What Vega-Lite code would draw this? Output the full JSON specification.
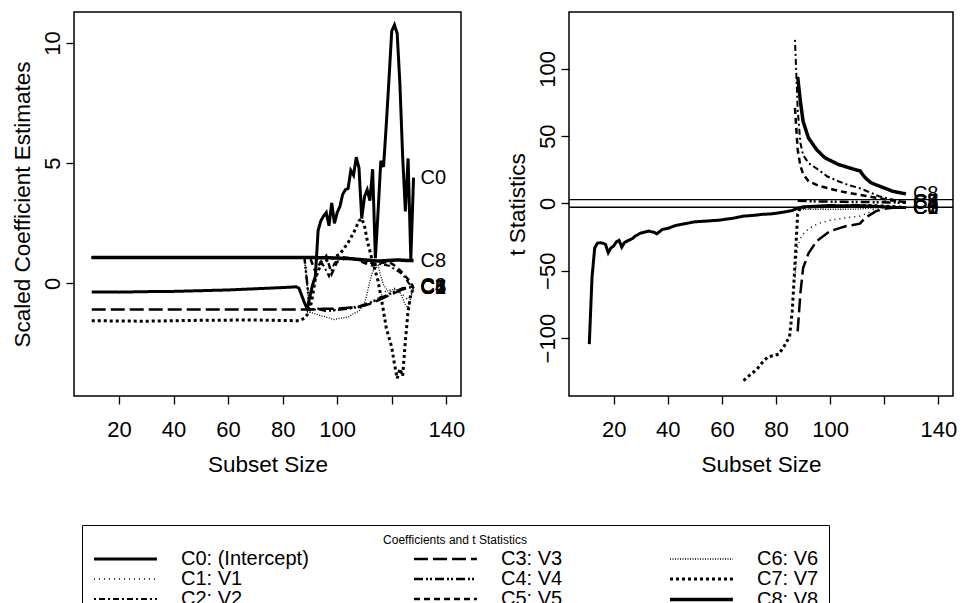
{
  "$schema": "https://vega.github.io/schema/vega-lite/v6.json",
  "background": "white",
  "padding": {"left": 10, "top": 11, "right": 5, "bottom": 0},
  "spacing": 39,
  "config": {
    "font": "Liberation Sans",
    "view": {"stroke": "black", "strokeWidth": 1.5},
    "axis": {"grid": false, "domain": false, "tickColor": "black", "tickSize": 8, "tickWidth": 1.3, "labelColor": "black", "labelFontSize": 22, "titleFontSize": 22.5, "titleFontWeight": "normal", "titleColor": "black", "labelOverlap": false, "labelFlush": false, "labelPadding": 14},
    "axisX": {"labelPadding": 15, "titlePadding": 13},
    "axisY": {"labelAngle": -90, "labelAlign": "center", "labelBaseline": "middle", "titlePadding": 7},
    "line": {"color": "black"},
    "text": {"color": "black"}
  },
  "datasets": {
    "coef": [
      {"s":"C0","x":10,"y":-0.35},{"s":"C0","x":20,"y":-0.36},{"s":"C0","x":30,"y":-0.34},{"s":"C0","x":40,"y":-0.33},{"s":"C0","x":50,"y":-0.3},{"s":"C0","x":60,"y":-0.27},{"s":"C0","x":70,"y":-0.22},{"s":"C0","x":80,"y":-0.17},{"s":"C0","x":85,"y":-0.14},{"s":"C0","x":86,"y":-0.2},{"s":"C0","x":87,"y":-0.5},{"s":"C0","x":88,"y":-0.8},{"s":"C0","x":89,"y":-1.05},{"s":"C0","x":90,"y":-0.55},{"s":"C0","x":91,"y":-0.05},{"s":"C0","x":92,"y":0.3},{"s":"C0","x":93,"y":2.2},{"s":"C0","x":94,"y":2.6},{"s":"C0","x":95,"y":2.8},{"s":"C0","x":96,"y":2.95},{"s":"C0","x":97,"y":2.4},{"s":"C0","x":98,"y":3.35},{"s":"C0","x":99,"y":2.5},{"s":"C0","x":100,"y":2.95},{"s":"C0","x":101,"y":3.2},{"s":"C0","x":102,"y":3.7},{"s":"C0","x":103,"y":3.9},{"s":"C0","x":104,"y":3.95},{"s":"C0","x":105,"y":4.7},{"s":"C0","x":106,"y":4.5},{"s":"C0","x":107,"y":5.25},{"s":"C0","x":108,"y":4.8},{"s":"C0","x":109,"y":2.7},{"s":"C0","x":110,"y":3.6},{"s":"C0","x":111,"y":3.9},{"s":"C0","x":112,"y":3.45},{"s":"C0","x":113,"y":4.75},{"s":"C0","x":114,"y":1.05},{"s":"C0","x":115,"y":3.0},{"s":"C0","x":116,"y":5.1},{"s":"C0","x":117,"y":4.85},{"s":"C0","x":118,"y":6.6},{"s":"C0","x":119,"y":8.5},{"s":"C0","x":120,"y":10.5},{"s":"C0","x":121,"y":10.75},{"s":"C0","x":122,"y":10.4},{"s":"C0","x":123,"y":8.3},{"s":"C0","x":124,"y":5.3},{"s":"C0","x":125,"y":3.0},{"s":"C0","x":126,"y":5.2},{"s":"C0","x":127,"y":1.0},{"s":"C0","x":128,"y":4.4},
      {"s":"C1","x":10,"y":1.08},{"s":"C1","x":88,"y":1.08},{"s":"C1","x":90,"y":-1.08},{"s":"C1","x":95,"y":-1.1},{"s":"C1","x":100,"y":-1.1},{"s":"C1","x":105,"y":-1.05},{"s":"C1","x":110,"y":-0.95},{"s":"C1","x":114,"y":-0.7},{"s":"C1","x":118,"y":-0.3},{"s":"C1","x":121,"y":-0.25},{"s":"C1","x":124,"y":-0.45},{"s":"C1","x":126,"y":-0.7},{"s":"C1","x":128,"y":-0.2},
      {"s":"C2","x":10,"y":1.08},{"s":"C2","x":90,"y":1.08},{"s":"C2","x":92,"y":1.0},{"s":"C2","x":95,"y":0.75},{"s":"C2","x":97,"y":0.3},{"s":"C2","x":99,"y":0.85},{"s":"C2","x":102,"y":1.1},{"s":"C2","x":106,"y":1.05},{"s":"C2","x":110,"y":0.9},{"s":"C2","x":112,"y":0.85},{"s":"C2","x":116,"y":0.8},{"s":"C2","x":119,"y":0.74},{"s":"C2","x":121,"y":0.6},{"s":"C2","x":123,"y":0.46},{"s":"C2","x":125,"y":0.25},{"s":"C2","x":126,"y":0.04},{"s":"C2","x":128,"y":-0.2},
      {"s":"C3","x":10,"y":-1.08},{"s":"C3","x":50,"y":-1.08},{"s":"C3","x":90,"y":-1.08},{"s":"C3","x":95,"y":-1.05},{"s":"C3","x":100,"y":-1.05},{"s":"C3","x":105,"y":-1.0},{"s":"C3","x":108,"y":-0.98},{"s":"C3","x":112,"y":-0.85},{"s":"C3","x":116,"y":-0.65},{"s":"C3","x":120,"y":-0.45},{"s":"C3","x":124,"y":-0.25},{"s":"C3","x":128,"y":-0.1},
      {"s":"C4","x":10,"y":1.08},{"s":"C4","x":88,"y":1.08},{"s":"C4","x":90,"y":-1.1},{"s":"C4","x":93,"y":-1.05},{"s":"C4","x":96,"y":-1.15},{"s":"C4","x":100,"y":-1.1},{"s":"C4","x":104,"y":-1.05},{"s":"C4","x":108,"y":-0.95},{"s":"C4","x":112,"y":-0.8},{"s":"C4","x":116,"y":-0.6},{"s":"C4","x":120,"y":-0.4},{"s":"C4","x":124,"y":-0.2},{"s":"C4","x":128,"y":-0.15},
      {"s":"C5","x":10,"y":1.08},{"s":"C5","x":90,"y":1.08},{"s":"C5","x":92,"y":0.5},{"s":"C5","x":94,"y":0.9},{"s":"C5","x":96,"y":1.15},{"s":"C5","x":98,"y":0.4},{"s":"C5","x":100,"y":0.9},{"s":"C5","x":103,"y":1.05},{"s":"C5","x":107,"y":1.0},{"s":"C5","x":110,"y":0.85},{"s":"C5","x":113,"y":0.75},{"s":"C5","x":116,"y":0.85},{"s":"C5","x":119,"y":0.9},{"s":"C5","x":121,"y":0.75},{"s":"C5","x":123,"y":0.55},{"s":"C5","x":125,"y":0.3},{"s":"C5","x":127,"y":0.05},{"s":"C5","x":128,"y":-0.2},
      {"s":"C6","x":10,"y":1.08},{"s":"C6","x":88,"y":1.08},{"s":"C6","x":90,"y":-1.2},{"s":"C6","x":93,"y":-1.3},{"s":"C6","x":96,"y":-1.4},{"s":"C6","x":99,"y":-1.5},{"s":"C6","x":101,"y":-1.45},{"s":"C6","x":104,"y":-1.4},{"s":"C6","x":106,"y":-1.25},{"s":"C6","x":108,"y":-1.15},{"s":"C6","x":110,"y":-0.85},{"s":"C6","x":111,"y":-0.4},{"s":"C6","x":112,"y":0.1},{"s":"C6","x":113,"y":0.5},{"s":"C6","x":115,"y":0.75},{"s":"C6","x":116,"y":0.3},{"s":"C6","x":117,"y":-0.05},{"s":"C6","x":119,"y":-0.4},{"s":"C6","x":121,"y":-0.2},{"s":"C6","x":123,"y":-0.35},{"s":"C6","x":125,"y":-0.9},{"s":"C6","x":126,"y":-1.0},{"s":"C6","x":127,"y":-0.6},{"s":"C6","x":128,"y":-0.2},
      {"s":"C7","x":10,"y":-1.55},{"s":"C7","x":30,"y":-1.57},{"s":"C7","x":50,"y":-1.53},{"s":"C7","x":70,"y":-1.52},{"s":"C7","x":86,"y":-1.55},{"s":"C7","x":88,"y":-1.45},{"s":"C7","x":89,"y":-1.3},{"s":"C7","x":90,"y":-1.1},{"s":"C7","x":91,"y":-0.5},{"s":"C7","x":92,"y":0.2},{"s":"C7","x":94,"y":0.8},{"s":"C7","x":96,"y":0.95},{"s":"C7","x":98,"y":1.05},{"s":"C7","x":101,"y":1.22},{"s":"C7","x":104,"y":1.7},{"s":"C7","x":106,"y":2.1},{"s":"C7","x":108,"y":2.6},{"s":"C7","x":109,"y":2.7},{"s":"C7","x":110,"y":2.4},{"s":"C7","x":111,"y":1.8},{"s":"C7","x":113,"y":0.9},{"s":"C7","x":115,"y":0.1},{"s":"C7","x":117,"y":-1.15},{"s":"C7","x":118,"y":-1.85},{"s":"C7","x":120,"y":-2.65},{"s":"C7","x":121,"y":-3.35},{"s":"C7","x":122,"y":-3.95},{"s":"C7","x":123,"y":-3.55},{"s":"C7","x":124,"y":-3.85},{"s":"C7","x":125,"y":-2.4},{"s":"C7","x":126,"y":-1.15},{"s":"C7","x":127,"y":-0.45},{"s":"C7","x":128,"y":-0.2},
      {"s":"C8","x":10,"y":1.08},{"s":"C8","x":50,"y":1.08},{"s":"C8","x":90,"y":1.08},{"s":"C8","x":100,"y":1.06},{"s":"C8","x":105,"y":1.03},{"s":"C8","x":110,"y":0.98},{"s":"C8","x":115,"y":0.93},{"s":"C8","x":118,"y":0.95},{"s":"C8","x":122,"y":0.98},{"s":"C8","x":125,"y":0.96},{"s":"C8","x":128,"y":0.95}
    ],
    "tstat": [
      {"s":"C0","x":11,"y":-104.5},{"s":"C0","x":12,"y":-55},{"s":"C0","x":13,"y":-33},{"s":"C0","x":14,"y":-29.5},{"s":"C0","x":15,"y":-29.2},{"s":"C0","x":16,"y":-29.5},{"s":"C0","x":17,"y":-30.4},{"s":"C0","x":18,"y":-36.6},{"s":"C0","x":19,"y":-33},{"s":"C0","x":20,"y":-31.6},{"s":"C0","x":21,"y":-28.5},{"s":"C0","x":22,"y":-27.4},{"s":"C0","x":23,"y":-32.4},{"s":"C0","x":24,"y":-29},{"s":"C0","x":25,"y":-27.9},{"s":"C0","x":27,"y":-26},{"s":"C0","x":28,"y":-24.2},{"s":"C0","x":30,"y":-22},{"s":"C0","x":33,"y":-20.5},{"s":"C0","x":35,"y":-21.5},{"s":"C0","x":36,"y":-22.5},{"s":"C0","x":38,"y":-19.3},{"s":"C0","x":40,"y":-18.5},{"s":"C0","x":43,"y":-16.3},{"s":"C0","x":47,"y":-14.8},{"s":"C0","x":50,"y":-13.6},{"s":"C0","x":55,"y":-13},{"s":"C0","x":59,"y":-12.4},{"s":"C0","x":64,"y":-11},{"s":"C0","x":68,"y":-9.4},{"s":"C0","x":72,"y":-8.8},{"s":"C0","x":75,"y":-8.1},{"s":"C0","x":78,"y":-7.8},{"s":"C0","x":81,"y":-7},{"s":"C0","x":84,"y":-6},{"s":"C0","x":86,"y":-5.2},{"s":"C0","x":88,"y":-3.5},{"s":"C0","x":90,"y":-2.5},{"s":"C0","x":95,"y":-2},{"s":"C0","x":100,"y":-1.5},{"s":"C0","x":105,"y":-1.8},{"s":"C0","x":110,"y":-1.5},{"s":"C0","x":115,"y":-2},{"s":"C0","x":120,"y":-2.5},{"s":"C0","x":125,"y":-3},{"s":"C0","x":128,"y":-3},
      {"s":"C1","x":87,"y":-55},{"s":"C1","x":88,"y":-32},{"s":"C1","x":89,"y":-26},{"s":"C1","x":90,"y":-23},{"s":"C1","x":92,"y":-19},{"s":"C1","x":94,"y":-16.5},{"s":"C1","x":97,"y":-14},{"s":"C1","x":100,"y":-12.5},{"s":"C1","x":106,"y":-10.6},{"s":"C1","x":111,"y":-9.4},{"s":"C1","x":114,"y":-7},{"s":"C1","x":116,"y":-4.5},{"s":"C1","x":120,"y":-3.5},{"s":"C1","x":128,"y":-3},
      {"s":"C2","x":87,"y":121.5},{"s":"C2","x":88,"y":70},{"s":"C2","x":89,"y":45},{"s":"C2","x":90,"y":36},{"s":"C2","x":92,"y":30},{"s":"C2","x":95,"y":26},{"s":"C2","x":99,"y":20},{"s":"C2","x":103,"y":16.5},{"s":"C2","x":107,"y":13.5},{"s":"C2","x":111,"y":11.3},{"s":"C2","x":115,"y":8},{"s":"C2","x":118,"y":5.4},{"s":"C2","x":122,"y":3.3},{"s":"C2","x":125,"y":2},{"s":"C2","x":128,"y":1},
      {"s":"C3","x":88,"y":-95},{"s":"C3","x":89,"y":-67},{"s":"C3","x":90,"y":-48},{"s":"C3","x":92,"y":-37},{"s":"C3","x":95,"y":-28},{"s":"C3","x":100,"y":-20.5},{"s":"C3","x":106,"y":-16.8},{"s":"C3","x":111,"y":-15},{"s":"C3","x":113,"y":-10.6},{"s":"C3","x":117,"y":-5.7},{"s":"C3","x":120,"y":-4},{"s":"C3","x":124,"y":-3},{"s":"C3","x":128,"y":-3},
      {"s":"C4","x":88,"y":2},{"s":"C4","x":95,"y":1.5},{"s":"C4","x":105,"y":1.2},{"s":"C4","x":115,"y":1},{"s":"C4","x":128,"y":0.5},
      {"s":"C5","x":87,"y":71},{"s":"C5","x":88,"y":40},{"s":"C5","x":89,"y":28},{"s":"C5","x":90,"y":22},{"s":"C5","x":92,"y":16.5},{"s":"C5","x":96,"y":13},{"s":"C5","x":101,"y":10.4},{"s":"C5","x":105,"y":8.5},{"s":"C5","x":110,"y":6.7},{"s":"C5","x":117,"y":4.2},{"s":"C5","x":122,"y":2.5},{"s":"C5","x":128,"y":1},
      {"s":"C6","x":88,"y":-4.5},{"s":"C6","x":92,"y":-4.3},{"s":"C6","x":100,"y":-4.3},{"s":"C6","x":105,"y":-4.3},{"s":"C6","x":110,"y":-4.2},{"s":"C6","x":115,"y":-3.5},{"s":"C6","x":120,"y":-3},{"s":"C6","x":128,"y":-3},
      {"s":"C7","x":68,"y":-131.5},{"s":"C7","x":70,"y":-128},{"s":"C7","x":73,"y":-123},{"s":"C7","x":75,"y":-118},{"s":"C7","x":77,"y":-114},{"s":"C7","x":79,"y":-113},{"s":"C7","x":81,"y":-112},{"s":"C7","x":83,"y":-106},{"s":"C7","x":85,"y":-99},{"s":"C7","x":86,"y":-80},{"s":"C7","x":87,"y":-45},{"s":"C7","x":88,"y":-8},{"s":"C7","x":89,"y":-3},{"s":"C7","x":95,"y":-2.5},{"s":"C7","x":105,"y":-2},{"s":"C7","x":115,"y":-1.5},{"s":"C7","x":125,"y":-2.5},{"s":"C7","x":128,"y":-3},
      {"s":"C8","x":88,"y":94},{"s":"C8","x":89,"y":76},{"s":"C8","x":90,"y":61},{"s":"C8","x":92,"y":48.6},{"s":"C8","x":95,"y":40},{"s":"C8","x":98,"y":34},{"s":"C8","x":103,"y":29},{"s":"C8","x":107,"y":26.5},{"s":"C8","x":110,"y":24.7},{"s":"C8","x":111,"y":24.3},{"s":"C8","x":112,"y":21.5},{"s":"C8","x":113,"y":19},{"s":"C8","x":115,"y":15.5},{"s":"C8","x":117,"y":13.8},{"s":"C8","x":120,"y":11.5},{"s":"C8","x":123,"y":9.1},{"s":"C8","x":128,"y":7.1}
    ]
  },
  "hconcat": [
    {
      "width": 387,
      "height": 384,
      "data": {"name": "coef"},
      "layer": [
        {
          "mark": {"type": "line", "clip": true},
          "encoding": {
            "x": {"field": "x", "type": "quantitative", "scale": {"domain": [3.5, 145.4], "nice": false, "zero": false}, "axis": {"title": "Subset Size", "values": [20, 40, 60, 80, 100, 120, 140], "labelExpr": "datum.value == 120 ? '' : datum.label"}},
            "y": {"field": "y", "type": "quantitative", "scale": {"domain": [-4.68, 11.29], "nice": false, "zero": false}, "axis": {"title": "Scaled Coefficient Estimates", "values": [0, 5, 10]}},
            "strokeDash": {"field": "s", "type": "nominal",
              "scale": {"type": "ordinal", "domain": ["C0","C1","C2","C3","C4","C5","C6","C7","C8"], "range": [[1,0],[1,4],[2,3,6,3],[14,5],[9,3,2,2,2,3],[6,4],[1,1.5],[3,3],[1,0]]},
              "legend": {"orient": "none", "legendX": 8, "legendY": 513, "values": ["C0","C1","C2","C3","C4","C5","C6","C7","C8"], "title": "Coefficients and t Statistics", "titleFontSize": 12, "titleFontWeight": "normal", "titleAnchor": "middle", "titleColor": "black", "titlePadding": 2, "columns": 3, "gridAlign": "each", "columnPadding": 100, "rowPadding": 0, "symbolType": "M-1,0H6.4", "symbolSize": 289, "symbolStrokeColor": "black", "symbolFillColor": "transparent", "labelFontSize": 20, "labelColor": "black", "labelOffset": 68, "labelLimit": 400, "labelExpr": "datum.label + ': ' + (datum.label == 'C0' ? '(Intercept)' : 'V' + substring(datum.label, 1))", "strokeColor": "black", "padding": 10}},
            "strokeWidth": {"field": "s", "type": "nominal",
              "scale": {"type": "ordinal", "domain": ["C0","C1","C2","C3","C4","C5","C6","C7","C8"], "range": [3, 1.5, 2, 2.5, 2.5, 2.5, 1.3, 3, 3.5]},
              "legend": {"orient": "none", "legendX": 8, "legendY": 513, "values": ["C0","C1","C2","C3","C4","C5","C6","C7","C8"], "title": "Coefficients and t Statistics", "titleFontSize": 12, "titleFontWeight": "normal", "titleAnchor": "middle", "titleColor": "black", "titlePadding": 2, "columns": 3, "gridAlign": "each", "columnPadding": 100, "rowPadding": 0, "symbolType": "M-1,0H6.4", "symbolSize": 289, "symbolStrokeColor": "black", "symbolFillColor": "transparent", "labelFontSize": 20, "labelColor": "black", "labelOffset": 68, "labelLimit": 400, "labelExpr": "datum.label + ': ' + (datum.label == 'C0' ? '(Intercept)' : 'V' + substring(datum.label, 1))", "strokeColor": "black", "padding": 10}}
          }
        },
        {
          "transform": [{"aggregate": [{"op": "argmax", "field": "x", "as": "last"}], "groupby": ["s"]}],
          "mark": {"type": "text", "align": "left", "baseline": "middle", "dx": 7, "fontSize": 20},
          "encoding": {
            "x": {"field": "last.x", "type": "quantitative"},
            "y": {"field": "last.y", "type": "quantitative"},
            "text": {"field": "s"}
          }
        }
      ]
    },
    {
      "width": 384,
      "height": 384,
      "data": {"name": "tstat"},
      "layer": [
        {
          "data": {"values": [{"h": 2.8}, {"h": -2.8}]},
          "mark": {"type": "rule", "color": "black", "strokeWidth": 1.3},
          "encoding": {"y": {"field": "h", "type": "quantitative"}}
        },
        {
          "mark": {"type": "line", "clip": true},
          "encoding": {
            "x": {"field": "x", "type": "quantitative", "scale": {"domain": [3.5, 145.4], "nice": false, "zero": false}, "axis": {"title": "Subset Size", "values": [20, 40, 60, 80, 100, 120, 140], "labelExpr": "datum.value == 120 ? '' : datum.label"}},
            "y": {"field": "y", "type": "quantitative", "scale": {"domain": [-143, 142.2], "nice": false, "zero": false}, "axis": {"title": "t Statistics", "values": [-100, -50, 0, 50, 100]}},
            "strokeDash": {"field": "s", "type": "nominal",
              "scale": {"type": "ordinal", "domain": ["C0","C1","C2","C3","C4","C5","C6","C7","C8"], "range": [[1,0],[1,4],[2,3,6,3],[14,5],[9,3,2,2,2,3],[6,4],[1,1.5],[3,3],[1,0]]}},
            "strokeWidth": {"field": "s", "type": "nominal",
              "scale": {"type": "ordinal", "domain": ["C0","C1","C2","C3","C4","C5","C6","C7","C8"], "range": [3, 1.5, 2, 2.5, 2.5, 2.5, 1.3, 3, 3.5]}}
          }
        },
        {
          "transform": [{"aggregate": [{"op": "argmax", "field": "x", "as": "last"}], "groupby": ["s"]}],
          "mark": {"type": "text", "align": "left", "baseline": "middle", "dx": 7, "fontSize": 20},
          "encoding": {
            "x": {"field": "last.x", "type": "quantitative"},
            "y": {"field": "last.y", "type": "quantitative"},
            "text": {"field": "s"}
          }
        }
      ]
    }
  ]
}
